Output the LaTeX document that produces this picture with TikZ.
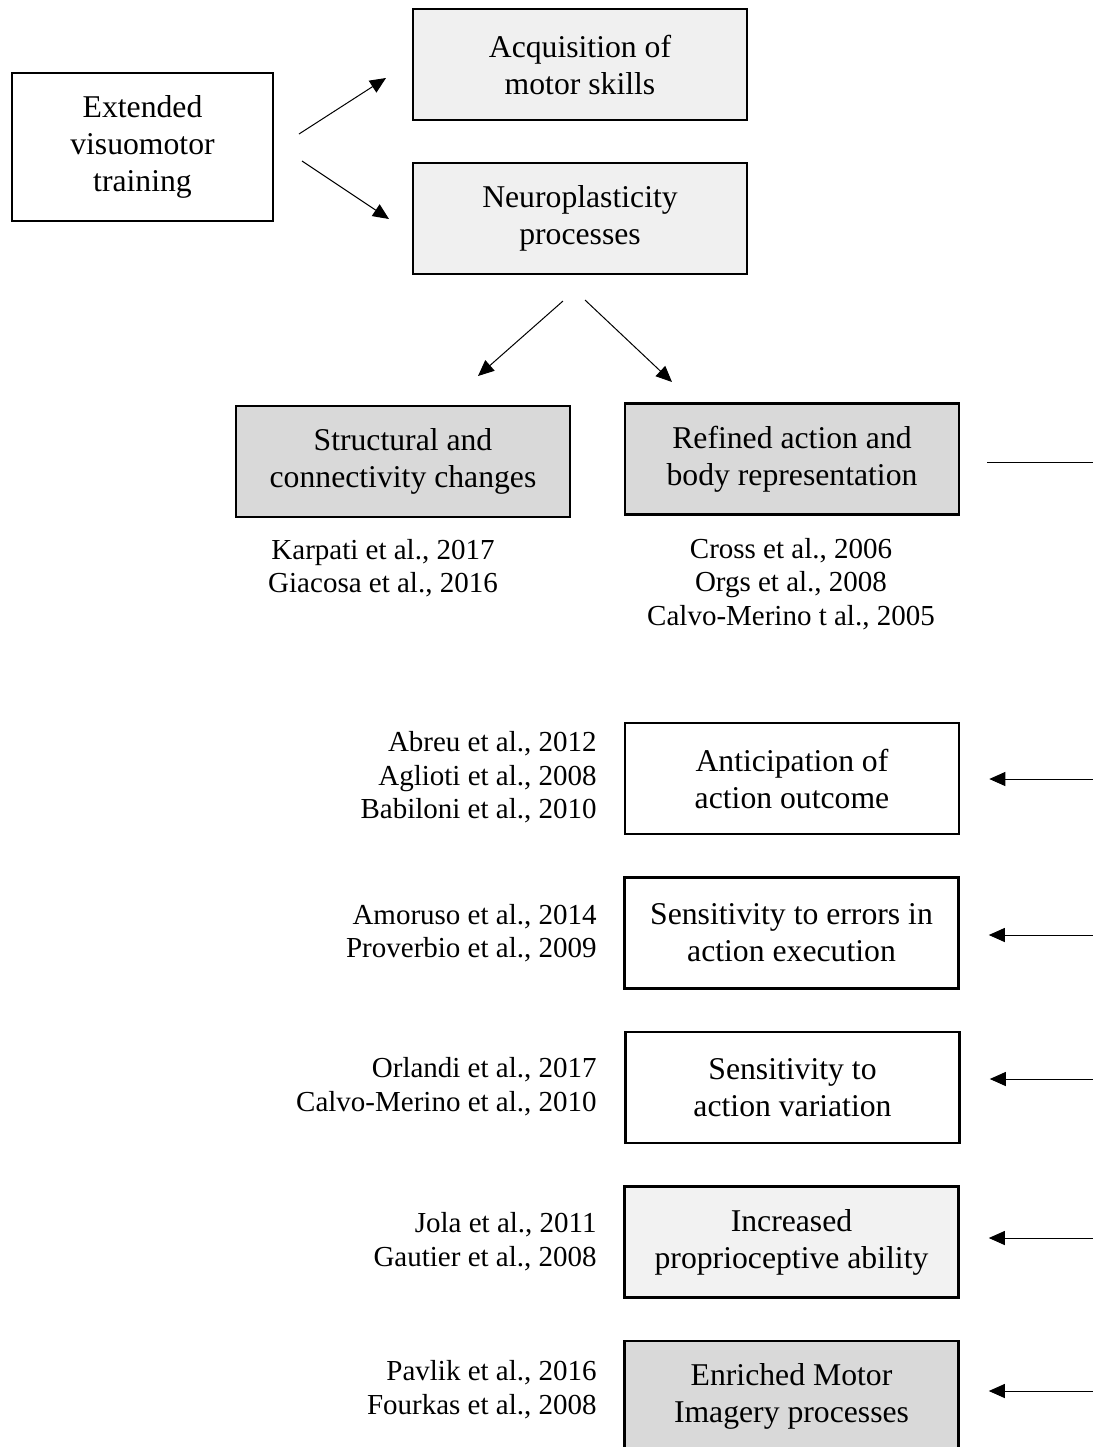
\documentclass[tikz,border=0pt]{standalone}
\usepackage{fontspec}
\setmainfont{Liberation Serif}
\usetikzlibrary{arrows.meta}

\begin{document}
\begin{tikzpicture}[
    x=0.5pt, y=-0.5pt,
    >={Triangle[length=8pt,width=7pt]},
    every node/.style={align=center},
    box/.style={draw, line width=1.3pt, font=\fontsize{15.85}{18.5}\selectfont,
      minimum width=167pt, minimum height=55.5pt, inner sep=2pt},
    topbox/.style={box, fill=black!6},
    darkbox/.style={box, fill=black!15},
    lightbox/.style={box, fill=black!5},
    wbox/.style={box, fill=white},
    cite/.style={font=\fontsize{14.5}{16.75}\selectfont, inner sep=0pt},
    arr/.style={->, line width=0.5pt},
  ]
    \useasboundingbox (0,0) rectangle (1093,1447);
    \clip (0,0) rectangle (1093,1447);

    % --- top row ---
    \node[wbox, minimum width=130.5pt, minimum height=74pt] (ext) at (142.5,147) {Extended\\visuomotor\\training};
    \node[topbox] (acq) at (580,64.5) {Acquisition of\\motor skills};
    \node[topbox] (neu) at (580,218.5) {Neuroplasticity\\processes};

    % --- second level ---
    \node[darkbox] (str) at (403,461.5) {Structural and\\connectivity changes};
    \node[darkbox] (ref) at (792,459) {Refined action and\\body representation};
    \node[cite] (c-str) at (383,568) {Karpati et al., 2017\\Giacosa et al., 2016};
    \node[cite] (c-ref) at (791,584) {Cross et al., 2006\\Orgs et al., 2008\\Calvo-Merino t al., 2005};

    % --- outcomes ---
    \node[wbox] (ant) at (792,778.5) {Anticipation of\\action outcome};
    \node[wbox] (err) at (791.5,933) {Sensitivity to errors in\\action execution};
    \node[wbox] (var) at (792.5,1087.5) {Sensitivity to\\action variation};
    \node[lightbox] (pro) at (791.5,1242) {Increased\\proprioceptive ability};
    \node[darkbox] (img) at (791.5,1396.5) {Enriched Motor\\Imagery processes};

    % --- citations, right aligned ---
    \node[cite, anchor=east, align=right] (c-ant) at (597,777.5) {Abreu et al., 2012\\Aglioti et al., 2008\\Babiloni et al., 2010};
    \node[cite, anchor=east, align=right] (c-err) at (597,933) {Amoruso et al., 2014\\Proverbio et al., 2009};
    \node[cite, anchor=east, align=right] (c-var) at (597,1086.5) {Orlandi et al., 2017\\Calvo-Merino et al., 2010};
    \node[cite, anchor=east, align=right] (c-pro) at (597,1241.5) {Jola et al., 2011\\Gautier et al., 2008};
    \node[cite, anchor=east, align=right] (c-img) at (597,1389.5) {Pavlik et al., 2016\\Fourkas et al., 2008};

    % --- free arrows ---
    \coordinate (e1) at (299,134);
    \coordinate (e2) at (386,78);
    \coordinate (e3) at (302,161);
    \coordinate (e4) at (389,219);
    \coordinate (n1) at (563,301);
    \coordinate (n2) at (478,376);
    \coordinate (n3) at (585,300);
    \coordinate (n4) at (672,382);
    \draw[arr] (e1) -- (e2);
    \draw[arr] (e3) -- (e4);
    \draw[arr] (n1) -- (n2);
    \draw[arr] (n3) -- (n4);

    % --- right margin ---
    \coordinate (out) at (1100,462);
    \draw[line width=0.5pt, shorten >=13.5pt] (out) -- (out -| ref.east);
    \foreach \y/\n in {779/ant, 935/err, 1079/var, 1238/pro, 1391/img} {
      \coordinate (in-\n) at (1100,\y);
      \draw[arr, shorten >=14.5pt] (in-\n) -- (in-\n -| \n.east);
    }
\end{tikzpicture}
\end{document}
